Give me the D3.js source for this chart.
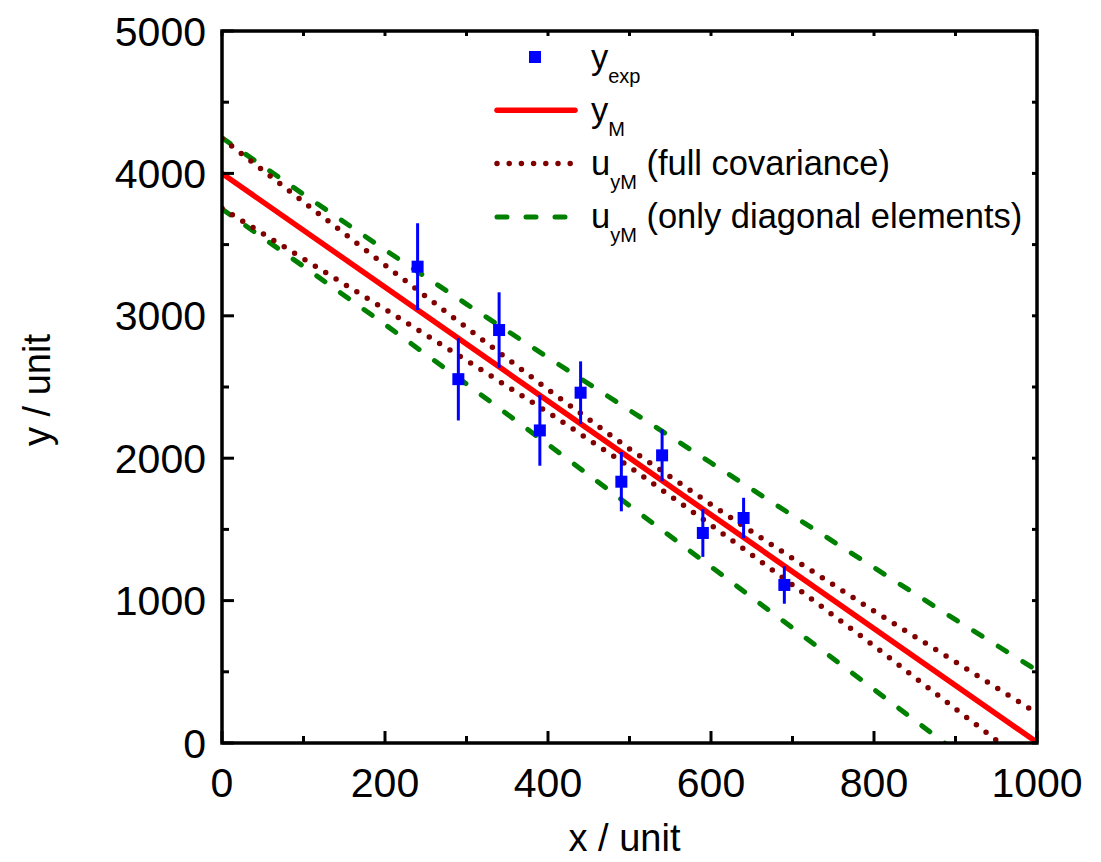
<!DOCTYPE html>
<html><head><meta charset="utf-8">
<script src="https://cdn.jsdelivr.net/npm/d3@7"></script>
<style>body{margin:0;background:#fff}svg{display:block}text{font-family:Arial,"Liberation Sans",sans-serif;fill:#000}</style>
</head><body>
<svg id="c" width="1101" height="862"></svg>
<script>
// ---- data ----
const xExp = [240, 290, 340, 390, 440, 490, 540, 590, 640, 690];
const yExp = [3345, 2555, 2900, 2195, 2460, 1835, 2020, 1475, 1580, 1110];
const uExp = [305, 290, 265, 248, 220, 208, 182, 168, 142, 132];

const xModel = [0, 1000];
const yModel = [4000, 5];

const xBand = [0, 100, 200, 300, 400, 500, 600, 700, 800, 900, 1000];
const fullUpper = [4245, 3800, 3356, 2917, 2482, 2065, 1675, 1296, 926, 570, 210];
const fullLower = [3755, 3400, 3046, 2687, 2322, 1940, 1531, 1111, 682, 240, -200];
const diagUpper = [4250, 3853, 3463, 3082, 2707, 2337, 1968, 1598, 1232, 866, 510];
const diagLower = [3750, 3347, 2939, 2521, 2097, 1667, 1238, 808, 376, -58, -500];

const xTicks = [0, 200, 400, 600, 800, 1000];
const yTicks = [0, 1000, 2000, 3000, 4000, 5000];
const xMinor = [100, 300, 500, 700, 900];
const yMinor = [500, 1500, 2500, 3500, 4500];

const legendMain = ["y", "y", "u", "u"];
const legendSub = ["exp", "M", "yM", "yM"];
const legendRest = ["", "", " (full covariance)", " (only diagonal elements)"];

// ---- layout ----
const L = 222, T = 31, W = 815, H = 712;
const svg = d3.select("#c");
const x = d3.scaleLinear().domain([0, 1000]).range([L, L + W]);
const y = d3.scaleLinear().domain([0, 5000]).range([T + H, T]);

svg.append("defs").append("clipPath").attr("id", "clip")
  .append("rect").attr("x", L).attr("y", T).attr("width", W).attr("height", H);

const line = d3.line().x(d => x(d[0])).y(d => y(d[1]));
const g = svg.append("g").attr("clip-path", "url(#clip)");

const dashed = {stroke: "#008000", width: 5, dash: "10,19"};
const dotted = {stroke: "#800000", width: 5.5, dash: "0,12.2"};

function drawLine(xs, ys, st) {
  g.append("path").attr("d", line(xs.map((v, i) => [v, ys[i]])))
    .attr("fill", "none").attr("stroke", st.stroke).attr("stroke-width", st.width)
    .attr("stroke-linecap", "round").attr("stroke-dasharray", st.dash || null);
}
drawLine(xBand, diagUpper, dashed);
drawLine(xBand, diagLower, dashed);
drawLine(xBand, fullUpper, dotted);
drawLine(xBand, fullLower, dotted);
drawLine(xModel, yModel, {stroke: "#ff0000", width: 5.5});

// error bars + points
const pts = xExp.map((v, i) => ({x: v, y: yExp[i], u: uExp[i]}));
g.selectAll(".eb").data(pts).enter().append("line")
  .attr("x1", d => x(d.x)).attr("x2", d => x(d.x))
  .attr("y1", d => y(d.y - d.u)).attr("y2", d => y(d.y + d.u))
  .attr("stroke", "#0000ff").attr("stroke-width", 3);
const S = 12;
g.selectAll(".pt").data(pts).enter().append("rect")
  .attr("x", d => x(d.x) - S / 2).attr("y", d => y(d.y) - S / 2)
  .attr("width", S).attr("height", S).attr("fill", "#0000ff");

// axes: ticks inward
const ax = svg.append("g");
function tick(x1, y1, x2, y2) {
  ax.append("line").attr("x1", x1).attr("y1", y1).attr("x2", x2).attr("y2", y2)
    .attr("stroke", "#000").attr("stroke-width", 3);
}
xTicks.forEach(v => { tick(x(v), T + H, x(v), T + H - 12); tick(x(v), T, x(v), T + 5); });
xMinor.forEach(v => { tick(x(v), T + H, x(v), T + H - 7); tick(x(v), T, x(v), T + 5); });
yTicks.forEach(v => { tick(L, y(v), L + 12, y(v)); tick(L + W, y(v), L + W - 5, y(v)); });
yMinor.forEach(v => { tick(L, y(v), L + 7, y(v)); tick(L + W, y(v), L + W - 5, y(v)); });
ax.append("rect").attr("x", L).attr("y", T).attr("width", W).attr("height", H)
  .attr("fill", "none").attr("stroke", "#000").attr("stroke-width", 3.5);

const fs = 41;
svg.selectAll(".xl").data(xTicks).enter().append("text")
  .attr("x", d => x(d)).attr("y", 797).attr("text-anchor", "middle")
  .attr("font-size", fs).text(d => d);
svg.selectAll(".yl").data(yTicks).enter().append("text")
  .attr("x", 206).attr("y", d => y(d) + 14.5).attr("text-anchor", "end")
  .attr("font-size", fs).text(d => d);

svg.append("text").attr("x", L + W / 2 - 5).attr("y", 851).attr("text-anchor", "middle")
  .attr("font-size", 38).text("x / unit");
svg.append("text").attr("transform", "translate(50," + (T + H / 2 + 3) + ") rotate(-90)")
  .attr("text-anchor", "middle").attr("font-size", 38).text("y / unit");

// legend
const ly0 = 57, ldy = 53.3, lx1 = 497, lx2 = 575, tx = 591;
legendMain.forEach((m, i) => {
  const yy = ly0 + i * ldy;
  if (i === 0) {
    svg.append("rect").attr("x", (lx1 + lx2) / 2 - S / 2 - 1).attr("y", yy - S / 2)
      .attr("width", S).attr("height", S).attr("fill", "#0000ff");
  } else {
    const st = i === 1 ? {stroke: "#ff0000", width: 5.5} : i === 2 ? dotted : dashed;
    svg.append("line").attr("x1", lx1).attr("x2", lx2).attr("y1", yy).attr("y2", yy)
      .attr("stroke", st.stroke).attr("stroke-width", st.width)
      .attr("stroke-linecap", "round").attr("stroke-dasharray", st.dash || null);
  }
  const t = svg.append("text").attr("x", tx).attr("y", yy + 11.5).attr("font-size", 34.5);
  t.append("tspan").text(m);
  t.append("tspan").attr("font-size", 20).attr("dy", 14).text(legendSub[i]);
  if (legendRest[i]) t.append("tspan").attr("dy", -14).text(legendRest[i]);
});
</script>
</body></html>
